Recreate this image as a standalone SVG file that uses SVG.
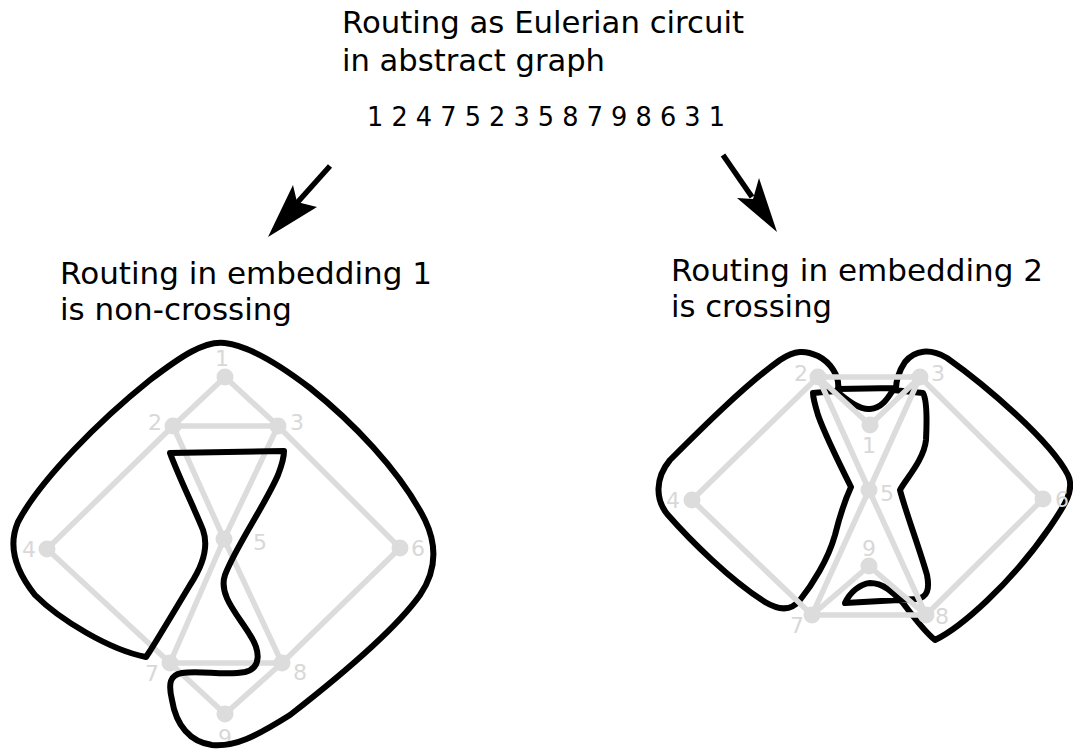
<svg xmlns="http://www.w3.org/2000/svg" width="1073" height="751" viewBox="0 0 1073 751">
<style>
.t{font-family:"DejaVu Sans","Liberation Sans",sans-serif;font-size:30px;fill:#000}
.seq{font-family:"DejaVu Sans","Liberation Sans",sans-serif;font-size:26px;fill:#000}
.e{stroke:#dcdcdc;stroke-width:5.5;stroke-linecap:round;fill:none}
.n{fill:#dcdcdc}
.lb{font-family:"DejaVu Sans","Liberation Sans",sans-serif;font-size:22px;fill:#d8d8d8;text-anchor:middle}
.c{stroke:#000;stroke-width:6;fill:none;stroke-linejoin:round}
.ar{fill:#000}
.sh{stroke:#000;stroke-width:5.5;fill:none}
</style>
<rect width="1073" height="751" fill="#fff"/>
<g id="title">
<text class="t" x="342" y="33" textLength="402" lengthAdjust="spacingAndGlyphs">Routing as Eulerian circuit</text>
<text class="t" x="342" y="71" textLength="263" lengthAdjust="spacingAndGlyphs">in abstract graph</text>
<text class="seq" x="367" y="126" textLength="358" lengthAdjust="spacingAndGlyphs">1 2 4 7 5 2 3 5 8 7 9 8 6 3 1</text>
</g>
<g id="arrows">
<line class="sh" x1="330" y1="166" x2="296" y2="204"/>
<polygon class="ar" points="268,237 293,185 297,202 317,207"/>
<line class="sh" x1="723" y1="155" x2="752" y2="197"/>
<polygon class="ar" points="759,178 777,232 737,198 753,199"/>
</g>
<g id="label-left">
<text class="t" x="60" y="284" textLength="372" lengthAdjust="spacingAndGlyphs">Routing in embedding 1</text>
<text class="t" x="60" y="320" textLength="232" lengthAdjust="spacingAndGlyphs">is non-crossing</text>
</g>
<g id="label-right">
<text class="t" x="671" y="281" textLength="372" lengthAdjust="spacingAndGlyphs">Routing in embedding 2</text>
<text class="t" x="671" y="317" textLength="161" lengthAdjust="spacingAndGlyphs">is crossing</text>
</g>
<g id="embedding1">
<g id="edges1" class="e">
<line x1="225" y1="377" x2="173" y2="426"/>
<line x1="225" y1="377" x2="278" y2="426"/>
<line x1="173" y1="426" x2="278" y2="426"/>
<line x1="173" y1="426" x2="47" y2="549"/>
<line x1="47" y1="549" x2="170" y2="663"/>
<line x1="170" y1="663" x2="224" y2="539"/>
<line x1="224" y1="539" x2="173" y2="426"/>
<line x1="278" y1="426" x2="224" y2="539"/>
<line x1="224" y1="539" x2="282" y2="663"/>
<line x1="282" y1="663" x2="170" y2="663"/>
<line x1="170" y1="663" x2="225" y2="714"/>
<line x1="225" y1="714" x2="282" y2="663"/>
<line x1="282" y1="663" x2="400" y2="548"/>
<line x1="400" y1="548" x2="278" y2="426"/>
</g>
<g id="n1-1"><circle class="n" cx="225" cy="377" r="8.5"/><text class="lb" x="222" y="366">1</text></g>
<g id="n1-2"><circle class="n" cx="173" cy="426" r="8.5"/><text class="lb" x="155" y="430">2</text></g>
<g id="n1-3"><circle class="n" cx="278" cy="426" r="8.5"/><text class="lb" x="297" y="430">3</text></g>
<g id="n1-4"><circle class="n" cx="47" cy="549" r="8.5"/><text class="lb" x="29" y="557">4</text></g>
<g id="n1-5"><circle class="n" cx="224" cy="539" r="8.5"/><text class="lb" x="260" y="550">5</text></g>
<g id="n1-6"><circle class="n" cx="400" cy="548" r="8.5"/><text class="lb" x="418" y="556">6</text></g>
<g id="n1-7"><circle class="n" cx="170" cy="663" r="8.5"/><text class="lb" x="152" y="681">7</text></g>
<g id="n1-8"><circle class="n" cx="282" cy="663" r="8.5"/><text class="lb" x="300" y="680">8</text></g>
<g id="n1-9"><circle class="n" cx="225" cy="714" r="8.5"/><text class="lb" x="225" y="745">9</text></g>
<path id="route1" class="c" d="M 150,651 L 146,657 C 110,650 60,620 35,595 C 15,570 8,545 18,522 C 40,480 100,420 150,380 C 180,357 205,340 225,343 C 250,346 280,365 310,388 C 350,420 400,470 425,520 C 437,545 437,570 420,595 C 395,630 335,680 290,715 C 255,737 235,747 212,745 C 190,742 176,725 172,700 C 168,683 170,675 182,673 C 200,670 225,676 245,672 C 262,668 260,650 250,635 C 238,615 218,595 225,575 C 235,548 265,505 278,475 C 283,462 284,455 284,451 L 170,453 C 178,475 195,510 203,530 C 210,550 200,570 190,585 C 178,605 160,635 150,651 Z"/>
</g>
<g id="embedding2">
<path id="route2" class="c" d="M 838,389 C 840,376 830,362 818,356 C 805,350 795,350 780,360 C 745,385 700,430 670,460 C 655,478 655,500 668,515 C 690,540 730,580 765,602 C 780,611 792,610 800,600 C 812,585 828,560 835,535 C 840,515 845,500 851,487 C 840,465 825,435 818,415 C 815,405 813,398 813,393 L 836,391 C 845,398 858,410 870,409 C 882,408 888,398 893,390 L 923,393 C 927,400 927,420 926,440 C 924,460 905,480 900,490 C 905,510 920,550 927,575 C 930,590 927,597 917,599 L 845,603 C 850,592 860,584 870,583 C 885,583 895,595 903,603 C 912,615 925,632 935,640 C 960,628 1010,585 1050,527 C 1065,505 1075,490 1068,475 C 1050,440 985,385 947,358 C 930,348 915,350 905,362 C 898,372 896,383 896,388 L 838,389 Z"/>
<g id="edges2" class="e">
<line x1="870" y1="425" x2="818" y2="377"/>
<line x1="870" y1="425" x2="920" y2="377"/>
<line x1="818" y1="377" x2="920" y2="377"/>
<line x1="818" y1="377" x2="692" y2="500"/>
<line x1="692" y1="500" x2="812" y2="615"/>
<line x1="812" y1="615" x2="869" y2="490"/>
<line x1="869" y1="490" x2="818" y2="377"/>
<line x1="920" y1="377" x2="869" y2="490"/>
<line x1="869" y1="490" x2="926" y2="615"/>
<line x1="926" y1="615" x2="812" y2="615"/>
<line x1="812" y1="615" x2="869" y2="566"/>
<line x1="869" y1="566" x2="926" y2="615"/>
<line x1="926" y1="615" x2="1043" y2="499"/>
<line x1="1043" y1="499" x2="920" y2="377"/>
</g>
<g id="n2-1"><circle class="n" cx="870" cy="425" r="8.5"/><text class="lb" x="869" y="453">1</text></g>
<g id="n2-2"><circle class="n" cx="818" cy="377" r="8.5"/><text class="lb" x="801" y="381">2</text></g>
<g id="n2-3"><circle class="n" cx="920" cy="377" r="8.5"/><text class="lb" x="938" y="381">3</text></g>
<g id="n2-4"><circle class="n" cx="692" cy="500" r="8.5"/><text class="lb" x="673" y="508">4</text></g>
<g id="n2-5"><circle class="n" cx="869" cy="490" r="8.5"/><text class="lb" x="887" y="501">5</text></g>
<g id="n2-6"><circle class="n" cx="1043" cy="499" r="8.5"/><text class="lb" x="1062" y="507">6</text></g>
<g id="n2-7"><circle class="n" cx="812" cy="615" r="8.5"/><text class="lb" x="797" y="633">7</text></g>
<g id="n2-8"><circle class="n" cx="926" cy="615" r="8.5"/><text class="lb" x="942" y="624">8</text></g>
<g id="n2-9"><circle class="n" cx="869" cy="566" r="8.5"/><text class="lb" x="869" y="556">9</text></g>
</g>
</svg>
